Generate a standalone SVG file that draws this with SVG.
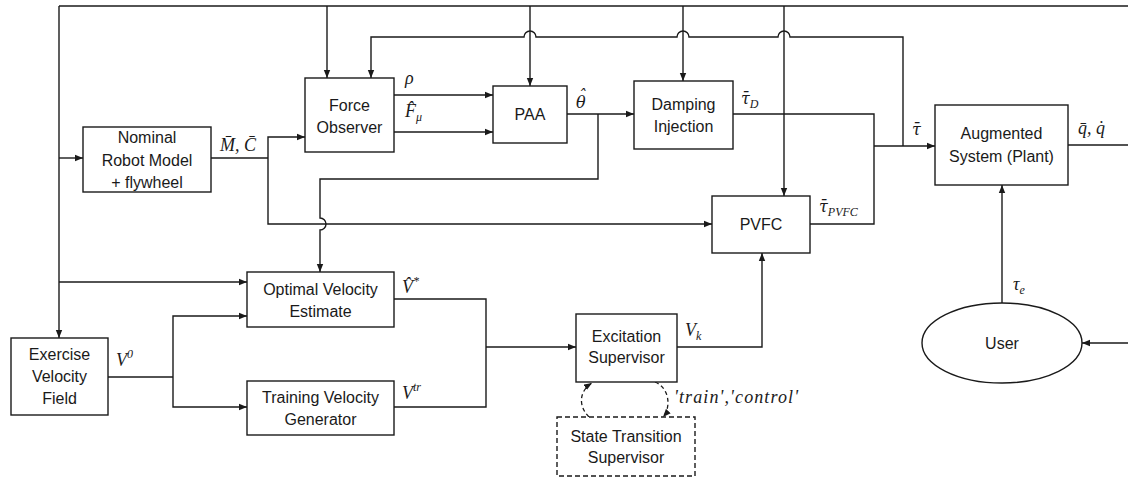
<svg xmlns="http://www.w3.org/2000/svg" width="1128" height="479" viewBox="0 0 1128 479">
<style>
.b{fill:#fff;stroke:#1a1a1a;stroke-width:1.4}
.d{fill:#fff;stroke:#1a1a1a;stroke-width:1.4;stroke-dasharray:5,3}
.l{fill:none;stroke:#1a1a1a;stroke-width:1.4}
.la{fill:none;stroke:#1a1a1a;stroke-width:1.4;marker-end:url(#a)}
.ld{fill:none;stroke:#1a1a1a;stroke-width:1.3;stroke-dasharray:4,3;marker-end:url(#a)}
.t{font-family:"Liberation Sans",Arial,sans-serif;font-size:16px;fill:#1a1a1a;text-anchor:middle}
.m{font-family:"Liberation Serif","DejaVu Serif",serif;font-style:italic;font-size:18px;fill:#1a1a1a}
.g{font-family:"DejaVu Serif",serif;font-size:16px}
.s{font-size:12px}
</style>
<defs>
<marker id="a" viewBox="0 0 10 10" refX="10" refY="5" markerWidth="8" markerHeight="8" markerUnits="userSpaceOnUse" orient="auto"><path d="M0,1 L10,5 L0,9 z" fill="#1a1a1a"/></marker>
</defs>
<rect width="1128" height="479" fill="#fff"/>
<g id="connectors">
<path class="l" d="M1128,6 H59"/>
<path class="la" d="M59,6 V338"/>
<path class="la" d="M59,158 H83"/>
<path class="la" d="M59,282 H247"/>
<path class="la" d="M327,6 V78"/>
<path class="la" d="M530,6 V86"/>
<path class="la" d="M683,6 V81"/>
<path class="la" d="M784,6 V196"/>
<path class="la" d="M903,146 V37 H790 A6,6 0 0 0 778,37 H689 A6,6 0 0 0 677,37 H536 A6,6 0 0 0 524,37 H371 V78"/>
<path class="l" d="M211,158 H268"/>
<path class="la" d="M268,158 V137 H305"/>
<path class="la" d="M268,158 V224 H712"/>
<path class="la" d="M394,95 H493"/>
<path class="la" d="M394,132 H493"/>
<path class="la" d="M567,114 H634"/>
<path class="la" d="M598,114 V179 H320 V218 A6,6 0 0 1 320,230 V272"/>
<path class="l" d="M733,114 H874 V224 H810"/>
<path class="la" d="M874,146 H935"/>
<path class="l" d="M1068,145 H1128"/>
<path class="la" d="M1002,303 V185"/>
<path class="la" d="M1128,343 H1082"/>
<path class="l" d="M108,377 H173"/>
<path class="la" d="M173,377 V316 H247"/>
<path class="la" d="M173,377 V407 H247"/>
<path class="l" d="M394,299 H486 V407 H394"/>
<path class="la" d="M486,347 H576"/>
<path class="la" d="M677,347 H762 V253"/>
<path class="ld" d="M589,417 C578,406 579,391 592,383"/>
<path class="ld" d="M655,382 C670,388 671,408 663,417"/>
</g>
<g id="nominal"><rect class="b" x="83" y="127" width="128" height="65"/>
<text class="t" x="147" y="143">Nominal</text><text class="t" x="147" y="166">Robot Model</text><text class="t" x="147" y="188">+ flywheel</text></g>
<g id="force-observer"><rect class="b" x="305" y="78" width="89" height="74"/>
<text class="t" x="349.5" y="111">Force</text><text class="t" x="349.5" y="133">Observer</text></g>
<g id="paa"><rect class="b" x="493" y="86" width="74" height="57"/>
<text class="t" x="530" y="120">PAA</text></g>
<g id="damping"><rect class="b" x="634" y="81" width="99" height="68"/>
<text class="t" x="683.5" y="110">Damping</text><text class="t" x="683.5" y="132">Injection</text></g>
<g id="plant"><rect class="b" x="935" y="105" width="133" height="80"/>
<text class="t" x="1001.5" y="139">Augmented</text><text class="t" x="1001.5" y="162">System (Plant)</text></g>
<g id="pvfc"><rect class="b" x="712" y="196" width="98" height="57"/>
<text class="t" x="761" y="230">PVFC</text></g>
<g id="optimal"><rect class="b" x="247" y="272" width="147" height="55"/>
<text class="t" x="320.5" y="295">Optimal Velocity</text><text class="t" x="320.5" y="317">Estimate</text></g>
<g id="training"><rect class="b" x="247" y="381" width="147" height="54"/>
<text class="t" x="320.5" y="403">Training Velocity</text><text class="t" x="320.5" y="425">Generator</text></g>
<g id="exercise"><rect class="b" x="11" y="338" width="97" height="77"/>
<text class="t" x="59.5" y="360">Exercise</text><text class="t" x="59.5" y="382">Velocity</text><text class="t" x="59.5" y="404">Field</text></g>
<g id="excitation"><rect class="b" x="576" y="314" width="101" height="68"/>
<text class="t" x="626.5" y="342">Excitation</text><text class="t" x="626.5" y="363">Supervisor</text></g>
<g id="state-transition"><rect class="d" x="557" y="417" width="138" height="59"/>
<text class="t" x="626" y="442">State Transition</text><text class="t" x="626" y="463">Supervisor</text></g>
<g id="user"><ellipse class="b" cx="1002" cy="343" rx="80" ry="40"/>
<text class="t" x="1002" y="349">User</text></g>
<g id="labels">
<text class="m" x="220" y="151">M&#x304;, C&#x304;</text>
<text class="m" x="405" y="84">ρ</text>
<text class="m" x="405" y="117">F&#x302;<tspan class="s" dy="4">μ</tspan></text>
<text class="m" x="576" y="108"><tspan class="g">θ</tspan><tspan class="g" x="578" dy="-7">ˆ</tspan></text>
<text class="m" x="741" y="104"><tspan class="g">τ&#x304;</tspan><tspan class="s" dy="4">D</tspan></text>
<text class="m" x="912" y="135"><tspan class="g">τ&#x304;</tspan></text>
<text class="m" x="819" y="212"><tspan class="g">τ&#x304;</tspan><tspan class="s" dy="4">PVFC</tspan></text>
<text class="m" x="1078" y="134">q&#x304;, q&#x307;</text>
<text class="m" x="1013" y="290">τ<tspan class="s" dy="4">e</tspan></text>
<text class="m" x="402" y="293">V&#x302;<tspan class="s" dy="-8">*</tspan></text>
<text class="m" x="402" y="399">V<tspan class="s" dy="-8">tr</tspan></text>
<text class="m" x="685" y="336">V<tspan class="s" dy="4">k</tspan></text>
<text class="m" x="116" y="366">V<tspan class="s" dy="-8">0</tspan></text>
<text class="m" x="674" y="403" textLength="124" lengthAdjust="spacing">'train','control'</text>
</g>
</svg>
